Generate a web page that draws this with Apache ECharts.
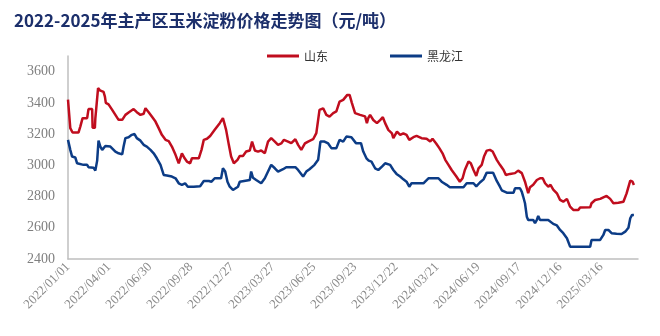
<!DOCTYPE html>
<html>
<head>
<meta charset="utf-8">
<script src="https://cdn.jsdelivr.net/npm/echarts@6/dist/echarts.min.js"></script>
<style>
html,body{margin:0;padding:0;background:#fff;}
#chart{width:660px;height:336px;}
</style>
</head>
<body>
<div id="chart"></div>
<script>
// x values: days since 2022/01/01
const startDate = [2022, 1, 1];
const seriesNames = ['山东', '黑龙江'];
const titleText = '2022-2025年主产区玉米淀粉价格走势图（元/吨）';

const shandongDay = [0,5,10,23,27,32,42,45,53,54,59,60,66,70,78,81,83,89,97,104,111,119,126,133,144,151,159,166,170,177,184,192,199,206,214,221,228,236,243,246,250,256,261,268,272,287,293,298,305,312,
  322,326,333,340,344,347,353,358,364,372,377,384,391,399,404,410,417,424,432,439,446,454,461,468,474,483,490,499,505,512,520,527,538,545,552,560,567,574,582,589,596,604,607,613,618,
  623,630,641,652,656,659,663,670,678,685,691,696,703,711,714,722,729,736,743,749,758,765,776,787,795,800,808,815,822,828,835,842,852,860,866,871,879,884,890,896,901,908,913,919,926,932,
  941,948,956,961,970,981,988,996,1003,1010,1014,1021,1029,1036,1042,1047,1054,1059,1065,1073,1080,1087,1095,1102,1109,1120,1124,1146,1149,1157,1168,1175,1182,1190,1197,1208,1219,1226,1234,1239,1242];
const shandongPrice = [3420,3238,3210,3210,3248,3302,3302,3360,3360,3240,3240,3300,3494,3480,3470,3440,3400,3390,3355,3323,3291,3291,3323,3338,3360,3340,3323,3330,3366,3340,3312,3280,3238,3195,3163,3155,3120,3067,3013,3005,3077,3045,3024,3013,3045,3045,3099,3163,3170,3188,
  3227,3230,3270,3302,3260,3227,3131,3056,3013,3035,3060,3060,3088,3095,3152,3095,3088,3095,3077,3152,3174,3152,3131,3140,3163,3152,3142,3167,3131,3099,3140,3152,3167,3206,3355,3365,3323,3312,3334,3345,3408,3419,3408,3451,3451,
  3400,3334,3323,3313,3270,3302,3323,3290,3270,3290,3308,3270,3227,3205,3174,3216,3195,3205,3195,3163,3180,3188,3174,3170,3152,3170,3140,3110,3077,3035,3003,2970,2930,2895,2917,2970,3024,3013,2970,2932,2981,3003,3056,3094,3099,3088,
  3035,3003,2970,2938,2945,2950,2966,2950,2895,2821,2860,2875,2906,2917,2917,2885,2863,2875,2845,2821,2778,2767,2785,2735,2714,2714,2730,2731,2757,2778,2785,2795,2804,2785,2757,2760,2767,2820,2902,2895,2874];

const heilongjiangDay = [0,5,9,16,20,34,42,45,56,60,64,67,71,75,82,93,97,104,111,119,122,126,133,140,146,151,159,166,173,181,188,195,203,210,217,228,236,243,250,257,263,276,290,298,309,
  315,322,336,340,345,350,355,362,366,373,377,399,402,406,413,424,432,439,446,454,461,472,479,499,505,516,523,530,541,549,554,563,571,578,589,596,604,611,622,
  626,632,643,648,655,660,666,674,681,689,696,700,707,714,721,729,736,743,749,754,780,791,813,820,831,838,868,875,890,896,904,912,919,933,
  941,948,952,963,978,981,992,996,999,1003,1007,1010,1021,1025,1029,1032,1036,1054,1058,1065,1073,1080,1087,1095,1102,1146,1149,1168,1175,1179,1186,1193,1204,1215,1223,1230,1234,1238,1242];
const heilongjiangPrice = [3163,3099,3056,3050,3013,3003,3003,2988,2985,2966,3030,3158,3120,3099,3124,3120,3110,3088,3077,3070,3120,3174,3180,3195,3200,3174,3158,3131,3120,3099,3077,3045,3003,2938,2935,2928,2917,2885,2875,2885,2863,2863,2866,2900,2900,
  2895,2917,2917,2981,2960,2895,2863,2842,2831,2863,2895,2906,2960,2920,2906,2885,2917,2960,3003,2981,2960,2975,2988,2988,2970,2928,2960,2975,3003,3035,3152,3152,3140,3110,3110,3163,3152,3184,3180,
  3170,3142,3142,3088,3045,3030,3024,2981,2970,2992,3013,3024,3003,2970,2945,2928,2910,2895,2863,2885,2885,2917,2917,2895,2875,2860,2860,2885,2885,2865,2890,2910,2953,2953,
  2900,2863,2840,2825,2825,2853,2853,2830,2800,2757,2671,2650,2650,2629,2650,2676,2650,2650,2639,2625,2615,2586,2565,2533,2479,2479,2522,2522,2554,2586,2586,2565,2562,2560,2575,2600,2661,2682,2682];

const yMin = 2400, yMax = 3700, yStep = 200;
const xMin = 0, xMax = 1251, xStep = 90;

function pairs(xs, ys) { return xs.map((x, i) => [x, ys[i]]); }
function dayLabel(d) {
  const t = new Date(Date.UTC(startDate[0], startDate[1] - 1, startDate[2]) + d * 86400000);
  const mm = String(t.getUTCMonth() + 1).padStart(2, '0');
  const dd = String(t.getUTCDate()).padStart(2, '0');
  return t.getUTCFullYear() + '/' + mm + '/' + dd;
}

const chart = echarts.init(document.getElementById('chart'), null, {renderer: 'canvas'});
chart.setOption({
  animation: false,
  backgroundColor: '#ffffff',
  title: {
    text: titleText,
    left: 9, top: 7,
    textStyle: {fontFamily: '"Noto Sans CJK SC", sans-serif', fontSize: 17, fontWeight: 'bold', color: '#1c2f6b'}
  },
  legend: {
    left: 262, top: 45,
    itemWidth: 32, itemHeight: 3, itemGap: 62,
    icon: 'rect',
    textStyle: {fontFamily: '"Noto Sans CJK SC", sans-serif', fontSize: 12, color: '#333333'},
    data: seriesNames
  },
  grid: {left: 68, right: 22, top: 56, bottom: 77, containLabel: false},
  xAxis: {
    type: 'value', min: xMin, max: xMax, interval: xStep,
    axisLine: {show: true, lineStyle: {color: '#bfbfbf', width: 1.5}},
    axisTick: {show: false},
    splitLine: {show: false},
    axisLabel: {
      rotate: 45, margin: 6, showMaxLabel: false,
      fontFamily: '"Liberation Serif", serif', fontSize: 13, color: '#8a8a8a',
      formatter: v => dayLabel(v)
    }
  },
  yAxis: {
    type: 'value', min: yMin, max: yMax, interval: yStep,
    axisLine: {show: true, lineStyle: {color: '#bfbfbf', width: 1.5}},
    axisTick: {show: false},
    splitLine: {show: false},
    axisLabel: {
      showMaxLabel: false, margin: 13,
      fontFamily: '"Liberation Serif", serif', fontSize: 14, color: '#7f7f7f',
      formatter: v => String(v)
    }
  },
  series: [
    {name: seriesNames[0], type: 'line', showSymbol: false, data: pairs(shandongDay, shandongPrice),
     lineStyle: {color: '#c00d1e', width: 2.5}, itemStyle: {color: '#c00d1e'}},
    {name: seriesNames[1], type: 'line', showSymbol: false, data: pairs(heilongjiangDay, heilongjiangPrice),
     lineStyle: {color: '#0c3c86', width: 2.5}, itemStyle: {color: '#0c3c86'}}
  ]
});
</script>
</body>
</html>
